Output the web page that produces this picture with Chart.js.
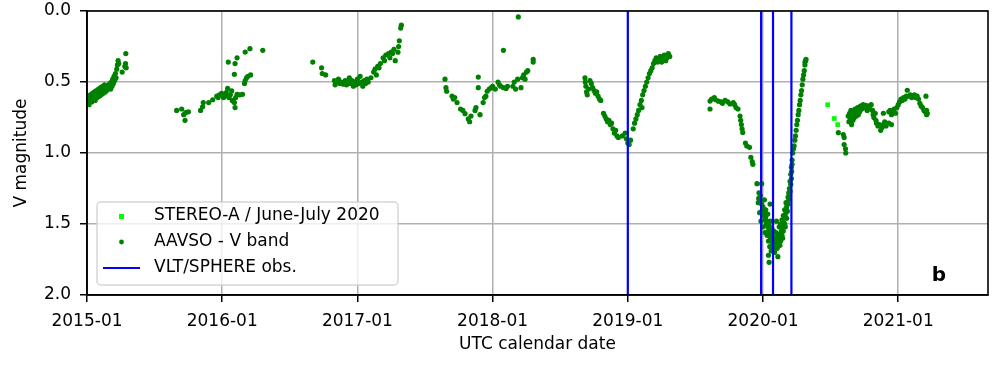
<!DOCTYPE html>
<html>
<head>
<meta charset="utf-8">
<script src="https://cdn.jsdelivr.net/npm/chart.js@4.4.0/dist/chart.umd.min.js"></script>
<style>
  html, body { margin: 0; padding: 0; background: #fff; }
  #wrap { width: 1000px; height: 368px; }
</style>
</head>
<body>
<div id="wrap"><canvas id="lc" width="1000" height="368"></canvas></div>
<script>
// dates as decimal years, values in V magnitude
const stereoA = [[2020.478, 0.66], [2020.527, 0.757], [2020.552, 0.80]];

const aavso2015 = [[2015.00,0.62],[2015.005,0.65],[2015.01,0.60],[2015.015,0.66],[2015.02,0.63],[2015.025,0.59],[2015.03,0.61],[2015.035,0.64],[2015.04,0.58],[2015.045,0.62],[2015.05,0.60],[2015.055,0.57],[2015.06,0.63],[2015.065,0.59],[2015.07,0.56],[2015.075,0.61],[2015.08,0.58],[2015.085,0.55],[2015.09,0.60],[2015.095,0.57],[2015.10,0.54],[2015.105,0.59],[2015.11,0.56],[2015.115,0.53],[2015.12,0.58],[2015.125,0.55],[2015.13,0.52],[2015.135,0.57],[2015.14,0.54],[2015.145,0.56],[2015.15,0.53],[2015.155,0.55],[2015.16,0.52],[2015.165,0.54],[2015.17,0.51],[2015.175,0.55],[2015.18,0.50],[2015.185,0.53],[2015.19,0.48],[2015.195,0.51],[2015.20,0.46],[2015.205,0.49],[2015.21,0.44],[2015.215,0.47],[2015.22,0.41],[2015.225,0.38],[2015.23,0.35],[2015.235,0.37],[2015.26,0.43],[2015.28,0.39],[2015.285,0.37],[2015.29,0.40],[2015.287,0.30]];

const aavso2016 = [[2015.663,0.70],[2015.70,0.69],[2015.715,0.73],[2015.725,0.77],[2015.73,0.715],[2015.75,0.71],[2015.84,0.70],[2015.855,0.675],[2015.86,0.645],[2015.90,0.645],[2015.93,0.625],[2015.96,0.60],[2015.97,0.61],[2015.98,0.59],[2015.996,0.58],[2016.01,0.61],[2016.02,0.59],[2016.03,0.575],[2016.04,0.545],[2016.045,0.60],[2016.05,0.61],[2016.06,0.59],[2016.07,0.563],[2016.075,0.63],[2016.08,0.634],[2016.09,0.645],[2016.095,0.68],[2016.10,0.61],[2016.11,0.587],[2016.13,0.59],[2016.15,0.587],[2016.045,0.36],[2016.095,0.37],[2016.11,0.33],[2016.09,0.446],[2016.17,0.289],[2016.205,0.265],[2016.30,0.277],[2016.165,0.51],[2016.17,0.49],[2016.18,0.47],[2016.19,0.46],[2016.21,0.45]];

const aavso2017 = [[2016.67,0.36],[2016.735,0.40],[2016.74,0.44],[2016.765,0.45],[2016.83,0.49],[2016.835,0.52],[2016.845,0.50],[2016.86,0.48],[2016.87,0.51],[2016.88,0.50],[2016.896,0.516],[2016.91,0.49],[2016.92,0.52],[2016.93,0.50],[2016.94,0.47],[2016.95,0.51],[2016.96,0.49],[2016.97,0.53],[2016.98,0.50],[2016.99,0.52],[2017.00,0.48],[2017.01,0.51],[2017.02,0.46],[2017.03,0.50],[2017.04,0.53],[2017.05,0.49],[2017.06,0.51],[2017.07,0.48],[2017.08,0.50],[2017.10,0.47],[2017.12,0.43],[2017.13,0.41],[2017.14,0.45],[2017.15,0.39],[2017.16,0.40],[2017.17,0.37],[2017.19,0.33],[2017.20,0.35],[2017.21,0.31],[2017.23,0.30],[2017.24,0.33],[2017.25,0.29],[2017.26,0.30],[2017.27,0.27],[2017.28,0.35],[2017.30,0.29],[2017.305,0.25],[2017.31,0.21],[2017.32,0.12],[2017.325,0.10]];

const aavso2018 = [[2017.648,0.48],[2017.655,0.54],[2017.66,0.565],[2017.70,0.60],[2017.71,0.62],[2017.72,0.61],[2017.737,0.645],[2017.763,0.69],[2017.78,0.70],[2017.796,0.723],[2017.82,0.76],[2017.83,0.78],[2017.84,0.74],[2017.87,0.70],[2017.877,0.68],[2017.907,0.73],[2017.894,0.465],[2017.894,0.54],[2017.93,0.645],[2017.94,0.61],[2017.95,0.60],[2017.96,0.565],[2017.975,0.55],[2017.99,0.54],[2018.00,0.53],[2018.02,0.55],[2018.04,0.50],[2018.05,0.52],[2018.06,0.53],[2018.08,0.54],[2018.10,0.545],[2018.11,0.53],[2018.08,0.277],[2018.19,0.042],[2018.15,0.53],[2018.16,0.50],[2018.17,0.55],[2018.185,0.48],[2018.21,0.54],[2018.22,0.47],[2018.23,0.45],[2018.24,0.48],[2018.25,0.43],[2018.26,0.42],[2018.30,0.36],[2018.30,0.34]];

const aavso2019 = [[2018.683,0.47],[2018.685,0.50],[2018.69,0.53],[2018.695,0.57],[2018.70,0.59],[2018.71,0.55],[2018.72,0.49],[2018.73,0.51],[2018.74,0.54],[2018.75,0.56],[2018.76,0.58],[2018.77,0.57],[2018.78,0.60],[2018.79,0.62],[2018.80,0.63],[2018.82,0.72],[2018.83,0.74],[2018.84,0.76],[2018.85,0.78],[2018.86,0.77],[2018.87,0.80],[2018.88,0.79],[2018.89,0.83],[2018.90,0.86],[2018.91,0.84],[2018.92,0.88],[2018.93,0.89],[2018.96,0.88],[2018.98,0.86],[2018.99,0.90],[2019.00,0.93],[2019.01,0.94],[2019.02,0.91],[2019.04,0.83],[2019.05,0.79],[2019.06,0.76],[2019.07,0.73],[2019.08,0.70],[2019.09,0.66],[2019.10,0.63],[2019.105,0.68],[2019.11,0.59],[2019.12,0.56],[2019.13,0.53],[2019.14,0.50],[2019.15,0.47],[2019.16,0.44],[2019.17,0.42],[2019.18,0.40],[2019.19,0.37],[2019.20,0.35],[2019.21,0.33],[2019.22,0.36],[2019.23,0.34],[2019.24,0.32],[2019.25,0.36],[2019.26,0.34],[2019.27,0.31],[2019.28,0.35],[2019.29,0.33],[2019.30,0.30],[2019.31,0.32]];

const aavso2020 = [[2019.608,0.634],[2019.608,0.69],[2019.62,0.62],[2019.64,0.61],[2019.65,0.625],[2019.67,0.635],[2019.69,0.64],[2019.70,0.65],[2019.72,0.63],[2019.74,0.64],[2019.756,0.655],[2019.78,0.645],[2019.79,0.66],[2019.80,0.68],[2019.815,0.69],[2019.83,0.74],[2019.835,0.77],[2019.84,0.80],[2019.845,0.83],[2019.85,0.855],[2019.87,0.93],[2019.88,0.95],[2019.90,0.96],[2019.91,1.03],[2019.92,1.06],[2019.925,1.08],[2019.955,1.216],[2019.99,1.216],[2019.97,1.28],[2019.968,1.32],[2019.99,1.36],[2019.995,1.40],[2020.00,1.38],[2020.005,1.44],[2020.01,1.42],[2020.015,1.47],[2020.02,1.45],[2020.025,1.50],[2020.03,1.48],[2020.035,1.52],[2020.04,1.55],[2020.045,1.51],[2020.05,1.57],[2020.052,1.36],[2020.055,1.60],[2020.06,1.58],[2020.065,1.62],[2020.07,1.64],[2020.04,1.72],[2020.045,1.77],[2020.075,1.59],[2020.08,1.66],[2020.085,1.70],[2020.09,1.62],[2020.095,1.63],[2020.10,1.61],[2020.10,1.48],[2020.105,1.67],[2020.11,1.73],[2020.115,1.64],[2020.12,1.60],[2020.125,1.57],[2020.13,1.62],[2020.135,1.55],[2020.14,1.58],[2020.145,1.52],[2020.15,1.55],[2020.155,1.49],[2020.16,1.50],[2020.165,1.45],[2020.17,1.42],[2020.175,1.38],[2020.18,1.35],[2020.185,1.31],[2020.19,1.28],[2020.195,1.25],[2020.20,1.20],[2020.205,1.15],[2020.21,1.10],[2020.215,1.05],[2020.22,1.00],[2020.225,0.97],[2020.23,0.95],[2020.235,0.91],[2020.24,0.88],[2020.245,0.84],[2020.25,0.80],[2020.255,0.77],[2020.26,0.73],[2020.265,0.70],[2020.27,0.66],[2020.275,0.63],[2020.28,0.59],[2020.285,0.56],[2020.29,0.52],[2020.295,0.48],[2020.30,0.45],[2020.305,0.42],[2020.31,0.38],[2020.315,0.35],[2020.318,0.34],[2020.31,0.36],
    [2019.965,1.35],[2019.975,1.42],[2019.98,1.30],[2019.985,1.48],[2020.00,1.52],[2020.01,1.33],[2020.015,1.56],[2020.02,1.40],[2020.03,1.58],[2020.035,1.43],[2020.04,1.62],[2020.05,1.66],[2020.055,1.48],[2020.06,1.69],[2020.065,1.53],[2020.07,1.56],[2020.075,1.68],[2020.08,1.55],[2020.085,1.60],[2020.09,1.68],[2020.095,1.56],[2020.10,1.66],[2020.11,1.58],[2020.12,1.52],[2020.125,1.65],[2020.13,1.50],[2020.14,1.47],[2020.145,1.60],[2020.15,1.44],[2020.16,1.40],[2020.165,1.52],[2020.17,1.35],[2020.175,1.46],[2020.18,1.41],[2020.185,1.36],[2020.19,1.33],[2020.195,1.30],[2020.20,1.27],[2020.205,1.22],[2020.21,1.18],[2020.212,1.13],[2020.215,1.08]];

const aavso2021 = [[2020.557,0.857],[2020.594,0.87],[2020.60,0.89],[2020.60,0.94],[2020.61,0.97],[2020.612,1.00],[2020.63,0.74],[2020.635,0.78],[2020.64,0.72],[2020.645,0.76],[2020.65,0.70],[2020.655,0.80],[2020.66,0.73],[2020.665,0.77],[2020.67,0.71],[2020.675,0.75],[2020.68,0.69],[2020.685,0.72],[2020.69,0.74],[2020.695,0.70],[2020.70,0.68],[2020.705,0.73],[2020.71,0.69],[2020.715,0.71],[2020.72,0.67],[2020.73,0.69],[2020.74,0.66],[2020.75,0.68],[2020.76,0.665],[2020.77,0.70],[2020.78,0.67],[2020.79,0.69],[2020.80,0.66],[2020.81,0.70],[2020.815,0.73],[2020.82,0.75],[2020.83,0.72],[2020.835,0.77],[2020.84,0.79],[2020.85,0.81],[2020.86,0.80],[2020.87,0.84],[2020.88,0.82],[2020.89,0.72],[2020.89,0.80],[2020.90,0.78],[2020.91,0.81],[2020.93,0.79],[2020.95,0.80],[2020.93,0.71],[2020.94,0.70],[2020.95,0.73],[2020.96,0.71],[2020.97,0.69],[2020.98,0.72],[2020.99,0.68],[2021.00,0.66],[2021.01,0.64],[2021.02,0.62],[2021.03,0.63],[2021.04,0.61],[2021.05,0.62],[2021.06,0.60],[2021.067,0.558],[2021.08,0.60],[2021.09,0.59],[2021.10,0.61],[2021.11,0.60],[2021.12,0.59],[2021.13,0.61],[2021.14,0.60],[2021.15,0.62],[2021.16,0.65],[2021.17,0.67],[2021.18,0.68],[2021.19,0.70],[2021.20,0.71],[2021.205,0.60],[2021.21,0.73],[2021.215,0.72],[2021.21,0.70]];

// VLT/SPHERE epochs
const sphereObs = [2019.0, 2019.986, 2020.074, 2020.21];

const xTickYears = [2015, 2016, 2017, 2018, 2019, 2020, 2021];
const yTicks = [0, 0.5, 1.0, 1.5, 2.0];

const FONT = 'DejaVu Sans';
Chart.defaults.font.family = FONT;
Chart.defaults.font.size = 17;
Chart.defaults.color = '#000';

const toXY = arr => arr.map(p => ({ x: p[0], y: p[1] }));
const aavsoAll = [].concat(aavso2015, aavso2016, aavso2017, aavso2018, aavso2019, aavso2020, aavso2021);

const lineSets = sphereObs.map(d => ({
    label: 'VLT/SPHERE obs.',
    data: [{ x: d, y: 0 }, { x: d, y: 2 }],
    showLine: true,
    borderColor: '#0000ff',
    borderWidth: 2.2,
    pointRadius: 0,
    order: 0
}));

// legend drawn inside the axes, plus the panel letter and the top/right spines
const framePlugin = {
    id: 'frame',
    afterDraw(chart) {
        const { ctx, chartArea: a } = chart;
        ctx.save();
        ctx.strokeStyle = '#000';
        ctx.lineWidth = 1.6;
        ctx.strokeRect(a.left, a.top, a.right - a.left, a.bottom - a.top);

        // legend box
        const bx = 97, by = 202, bw = 301, bh = 83, r = 4;
        ctx.beginPath();
        ctx.moveTo(bx + r, by);
        ctx.arcTo(bx + bw, by, bx + bw, by + bh, r);
        ctx.arcTo(bx + bw, by + bh, bx, by + bh, r);
        ctx.arcTo(bx, by + bh, bx, by, r);
        ctx.arcTo(bx, by, bx + bw, by, r);
        ctx.closePath();
        ctx.fillStyle = 'rgba(255,255,255,0.8)';
        ctx.fill();
        ctx.strokeStyle = 'rgba(204,204,204,0.8)';
        ctx.lineWidth = 1.5;
        ctx.stroke();

        ctx.fillStyle = '#00ff00';
        ctx.fillRect(119, 214, 5, 5);
        ctx.fillStyle = '#008000';
        ctx.beginPath();
        ctx.arc(121.5, 242, 2.4, 0, Math.PI * 2);
        ctx.fill();
        ctx.strokeStyle = '#0000ff';
        ctx.lineWidth = 2.2;
        ctx.beginPath();
        ctx.moveTo(103, 268);
        ctx.lineTo(140, 268);
        ctx.stroke();

        ctx.fillStyle = '#000';
        ctx.font = '17px ' + FONT;
        ctx.textBaseline = 'middle';
        ctx.textAlign = 'left';
        ctx.fillText('STEREO-A / June-July 2020', 154, 216);
        ctx.fillText('AAVSO - V band', 154, 242);
        ctx.fillText('VLT/SPHERE obs.', 154, 268);

        ctx.font = 'bold 20px ' + FONT;
        ctx.textBaseline = 'alphabetic';
        ctx.textAlign = 'center';
        ctx.fillText('b', 939, 281);
        ctx.restore();
    }
};

new Chart(document.getElementById('lc'), {
    type: 'scatter',
    data: {
        datasets: [
            ...lineSets,
            {
                label: 'STEREO-A / June-July 2020',
                data: toXY(stereoA),
                pointStyle: 'rect',
                pointRadius: 3.3,
                backgroundColor: '#00ff00',
                borderWidth: 0,
                order: 1
            },
            {
                label: 'AAVSO - V band',
                data: toXY(aavsoAll),
                pointRadius: 2.6,
                backgroundColor: '#008000',
                borderWidth: 0,
                order: 2
            }
        ]
    },
    options: {
        responsive: false,
        animation: false,
        layout: { padding: { top: 11, right: 12, left: 0, bottom: 0 } },
        plugins: { legend: { display: false }, tooltip: { enabled: false } },
        scales: {
            x: {
                type: 'linear',
                min: 2015,
                max: 2021.664,
                afterFit(scale) { scale.height = 73; scale.paddingLeft = 0; scale.paddingRight = 0; },
                afterBuildTicks(scale) { scale.ticks = xTickYears.map(v => ({ value: v })); },
                ticks: {
                    padding: 9,
                    maxRotation: 0,
                    callback: v => v + '-01'
                },
                grid: { color: '#b0b0b0', lineWidth: 1.5, tickColor: '#000', tickLength: 7, tickWidth: 1.5 },
                border: { color: '#000', width: 1.6 },
                title: { display: true, text: 'UTC calendar date', padding: { top: 0, bottom: 13 } }
            },
            y: {
                reverse: true,
                min: 0,
                max: 2,
                afterFit(scale) { scale.width = 87; scale.paddingTop = 0; scale.paddingBottom = 0; },
                afterBuildTicks(scale) { scale.ticks = yTicks.map(v => ({ value: v })); },
                ticks: { padding: 9, callback: v => v.toFixed(1) },
                grid: { color: '#b0b0b0', lineWidth: 1.5, tickColor: '#000', tickLength: 7, tickWidth: 1.5 },
                border: { color: '#000', width: 1.6 },
                title: { display: true, text: 'V magnitude', padding: { top: 11, bottom: 0 } }
            }
        }
    },
    plugins: [framePlugin]
});
</script>
</body>
</html>
